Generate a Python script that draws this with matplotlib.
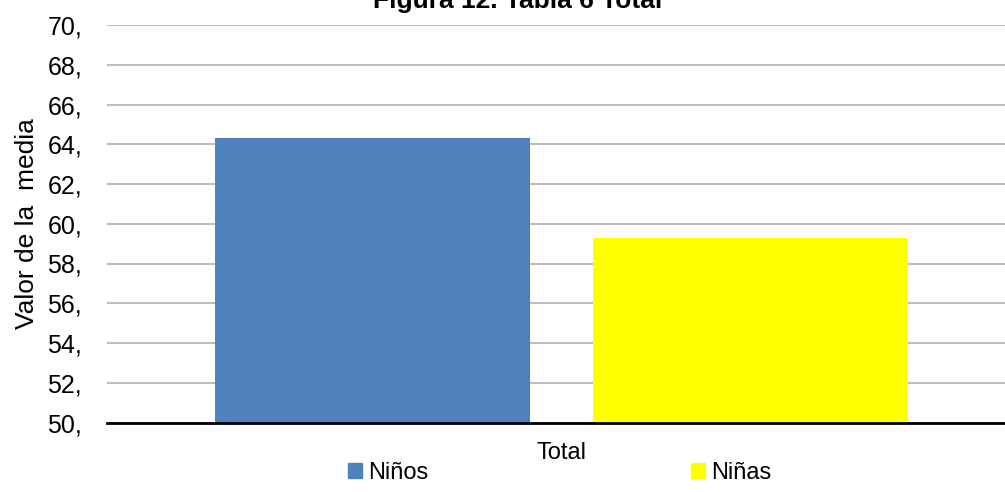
import matplotlib.pyplot as plt
from matplotlib.patches import Patch

# Datos
categorias = ['Total']
series = ['Niños', 'Niñas']
valores_ninos = [64.3]
valores_ninas = [59.3]
ticks_y = [50, 52, 54, 56, 58, 60, 62, 64, 66, 68, 70]
etiquetas_y = [f'{t},' for t in ticks_y]

plt.rcParams['font.family'] = ['Liberation Sans', 'DejaVu Sans']

fig = plt.figure(figsize=(10.05, 4.92), dpi=100)
# el area de trazado sale por la derecha, como en la imagen original
ax = fig.add_axes([107 / 1005, 1 - 422.5 / 492, 909 / 1005, 397.5 / 492])

ancho = 0.3465
hueco = 0.0693
x = [0]
ax.bar([p - (ancho + hueco) / 2 for p in x], valores_ninos, width=ancho,
       color='#4F81BD', label=series[0], zorder=3)
ax.bar([p + (ancho + hueco) / 2 for p in x], valores_ninas, width=ancho,
       color='#FFFF00', label=series[1], zorder=3)

ax.set_xlim(-0.5, 0.5)
ax.set_ylim(50, 70)
ax.set_yticks(ticks_y)
ax.set_yticklabels(etiquetas_y, fontsize=18)
ax.set_xticks(x)
ax.set_xticklabels(categorias, fontsize=17)
ax.tick_params(axis='y', length=0, pad=18)
ax.tick_params(axis='x', length=0, pad=14)

ax.grid(axis='y', color='#BEBEBE', linewidth=1.5, zorder=0)
for lado in ['top', 'right', 'left']:
    ax.spines[lado].set_visible(False)
ax.spines['bottom'].set_linewidth(2)
ax.spines['bottom'].set_color('black')
ax.spines['bottom'].set_zorder(4)

ax.set_ylabel('Valor de la  media', fontsize=19, labelpad=6)

# titulo cortado por arriba
fig.text(518 / 1005, 1 - 8 / 492, 'Figura 12. Tabla 6 Total', ha='center',
         va='baseline', fontsize=19, fontweight='bold')

manejadores = [Patch(color='#4F81BD'), Patch(color='#FFFF00')]
fig.legend(manejadores, series, loc='lower left', ncol=2, frameon=False,
           bbox_to_anchor=(334 / 1005, -0.012), fontsize=17,
           handlelength=0.6, handleheight=0.6, handletextpad=0.25,
           columnspacing=11.1, borderpad=0.1)

fig.savefig('out.png', dpi=100)
